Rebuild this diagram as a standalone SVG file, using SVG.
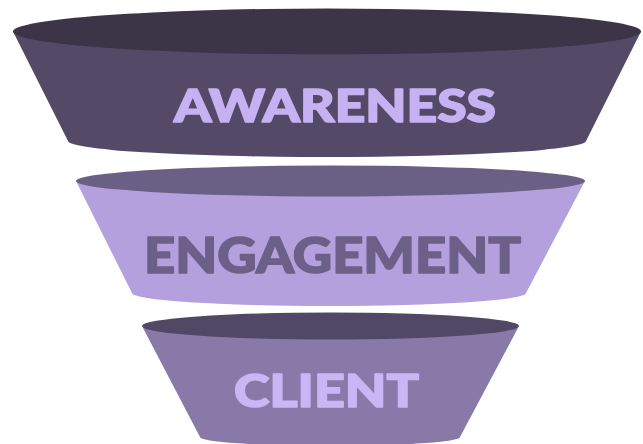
<svg xmlns="http://www.w3.org/2000/svg" width="643" height="444" viewBox="0 0 643 444">
<style>
.lbl{font-family:Lato,"DejaVu Sans",sans-serif;font-weight:900;stroke-width:1.6;stroke-linejoin:round;}
</style>
<rect width="643" height="444" fill="#ffffff"/>
<g id="tier-awareness">
<path d="M13,31.5 L68,141 A259,16 0 0 0 586,141 L641,31.5 Z" fill="#544a67"/>
<ellipse cx="327" cy="31.5" rx="314" ry="23" fill="#3c3548"/>
<text class="lbl" x="174" y="121.5" font-size="46" fill="#c6b2f2" stroke="#c6b2f2" textLength="322" lengthAdjust="spacingAndGlyphs">AWARENESS</text>
</g>
<g id="tier-engagement">
<path d="M76,181 L132,293 A197,13 0 0 0 526,293 L585,181 Z" fill="#b3a0dd"/>
<ellipse cx="330.5" cy="181" rx="254.5" ry="15.5" fill="#6a5f85"/>
<text class="lbl" x="144" y="272.5" font-size="50" fill="#6c5f88" stroke="#6c5f88" textLength="377" lengthAdjust="spacingAndGlyphs">ENGAGEMENT</text>
</g>
<g id="tier-client">
<path d="M142,326 L200,437 A130,9 0 0 0 460,437 L519,326 Z" fill="#8979a8"/>
<ellipse cx="330.5" cy="326" rx="188.5" ry="13.5" fill="#514866"/>
<text class="lbl" x="234" y="406.5" font-size="46" fill="#c9b6f4" stroke="#c9b6f4" textLength="185" lengthAdjust="spacingAndGlyphs">CLIENT</text>
</g>
<g id="connectors"></g>
</svg>
